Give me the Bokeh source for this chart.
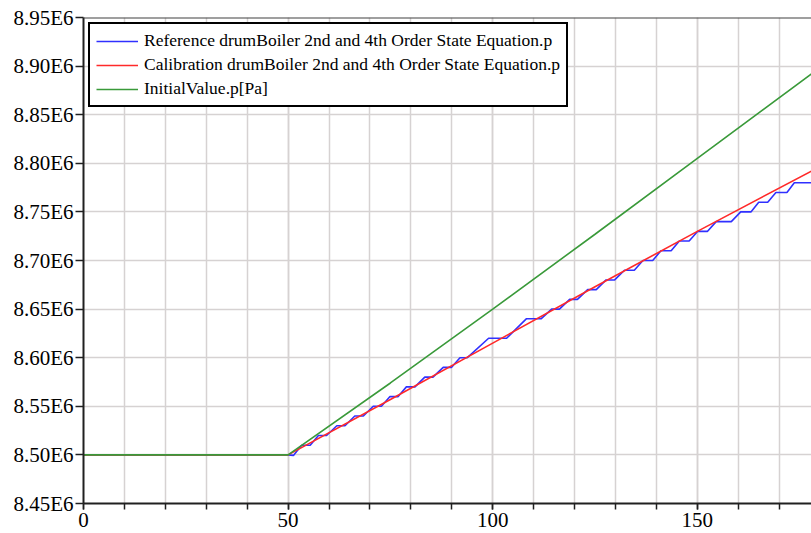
from bokeh.plotting import figure
from bokeh.models import FixedTicker, CustomJSTickFormatter, Span, Range1d, Legend, LegendItem
from bokeh.embed import file_html
from bokeh.resources import INLINE

# ---- data (time [s], pressure [Pa]) ----
blue_x = [0, 50, 51.3, 53.3, 55.4, 57.4, 59.4, 61.9, 63.9, 66.3, 68.4, 70.8, 72.8, 74.9, 76.9,
          78.9, 81.0, 83.4, 85.4, 87.9, 89.9, 92.0, 93.8, 99.0, 103.4, 108.2, 111.8, 114.4, 116.3,
          118.8, 120.7, 123.2, 125.3, 127.7, 129.8, 132.2, 134.6, 136.7, 139.1, 141.1, 143.6,
          145.6, 148.0, 150.1, 152.5, 154.6, 158.3, 160.6, 163.1, 165.0, 167.2, 169.2, 171.9,
          173.7, 177.9]
blue_y = [8.50e6, 8.50e6, 8.4995e6, 8.51e6, 8.51e6, 8.52e6, 8.52e6, 8.53e6, 8.53e6, 8.54e6, 8.54e6,
          8.55e6, 8.55e6, 8.56e6, 8.56e6, 8.57e6, 8.57e6, 8.58e6, 8.58e6, 8.59e6, 8.59e6, 8.60e6,
          8.60e6, 8.62e6, 8.62e6, 8.64e6, 8.64e6, 8.65e6, 8.65e6, 8.66e6, 8.66e6, 8.67e6, 8.67e6,
          8.68e6, 8.68e6, 8.69e6, 8.69e6, 8.70e6, 8.70e6, 8.71e6, 8.71e6, 8.72e6, 8.72e6, 8.73e6,
          8.73e6, 8.74e6, 8.74e6, 8.75e6, 8.75e6, 8.76e6, 8.76e6, 8.77e6, 8.77e6, 8.78e6, 8.78e6]

red_x = [0, 50, 75, 100, 125, 150, 177.9]
red_y = [8.500e6, 8.500e6, 8.557e6, 8.615e6, 8.673e6, 8.730e6, 8.792e6]

green_x = [0, 50, 75, 100, 125, 150, 177.9]
green_y = [8.500e6, 8.500e6, 8.574e6, 8.650e6, 8.727e6, 8.805e6, 8.892e6]

y_ticks = [8.45e6, 8.50e6, 8.55e6, 8.60e6, 8.65e6, 8.70e6, 8.75e6, 8.80e6, 8.85e6, 8.90e6, 8.95e6]
x_major = [0, 50, 100, 150]
x_minor = [0, 10, 20, 30, 40, 50, 60, 70, 80, 90, 100, 110, 120, 130, 140, 150, 160, 170]

labels = ["Reference drumBoiler 2nd and 4th Order State Equation.p",
          "Calibration drumBoiler 2nd and 4th Order State Equation.p",
          "InitialValue.p[Pa]"]

FONT = "Liberation Serif"

p = figure(width=811, height=533, output_backend="svg", toolbar_location=None,
           x_range=Range1d(0, 177.9), y_range=Range1d(8.45e6, 8.95e6),
           min_border_left=83, min_border_right=0, min_border_top=17, min_border_bottom=30)
p.outline_line_color = None
p.background_fill_color = "white"

r_b = p.line(blue_x, blue_y, line_color="#3030ff", line_width=1.6)
r_r = p.line(red_x, red_y, line_color="#ff2a2a", line_width=1.6)
r_g = p.line(green_x, green_y, line_color="#3a9a3a", line_width=1.6)

# axes
p.xaxis.ticker = FixedTicker(ticks=x_major, minor_ticks=x_minor)
p.yaxis.ticker = FixedTicker(ticks=y_ticks)
p.yaxis.formatter = CustomJSTickFormatter(code="return (tick/1e6).toFixed(2) + 'E6';")
for ax in (p.xaxis[0], p.yaxis[0]):
    ax.axis_line_color = "#202020"
    ax.axis_line_width = 2
    ax.major_tick_line_color = "#202020"
    ax.major_tick_line_width = 1.5
    ax.major_tick_in = 0
    ax.major_label_text_font = FONT
    ax.major_label_text_font_size = "21px"
    ax.major_label_text_color = "black"
p.xaxis.major_tick_out = 6
p.xaxis.minor_tick_out = 6
p.xaxis.minor_tick_in = 0
p.xaxis.minor_tick_line_color = "#202020"
p.xaxis.minor_tick_line_width = 1.5
p.xaxis.major_label_standoff = 3
p.yaxis.major_tick_out = 8
p.yaxis.minor_tick_line_color = None
p.yaxis.major_label_standoff = 2

# grids
p.xgrid.grid_line_color = "#d6d2d2"
p.xgrid.grid_line_width = 1.5
p.xgrid.minor_grid_line_color = "#d6d2d2"
p.xgrid.minor_grid_line_width = 1.5
p.ygrid.grid_line_color = "#d6d2d2"
p.ygrid.grid_line_width = 1.5

p.add_layout(Span(location=8.95e6, dimension="width", line_color="#404040", line_width=2))

legend = Legend(items=[LegendItem(label=labels[0], renderers=[r_b]),
                       LegendItem(label=labels[1], renderers=[r_r]),
                       LegendItem(label=labels[2], renderers=[r_g])],
                location="top_left")
legend.margin = 5
legend.padding = 6
legend.spacing = 3
legend.glyph_width = 42
legend.glyph_height = 20
legend.label_height = 20
legend.label_standoff = 6
legend.label_text_font = FONT
legend.label_text_font_size = "17.5px"
legend.label_text_color = "black"
legend.border_line_color = "black"
legend.border_line_width = 2
legend.border_line_alpha = 1.0
legend.background_fill_alpha = 1.0
p.add_layout(legend)

open("out.html", "w").write(file_html(p, INLINE))
